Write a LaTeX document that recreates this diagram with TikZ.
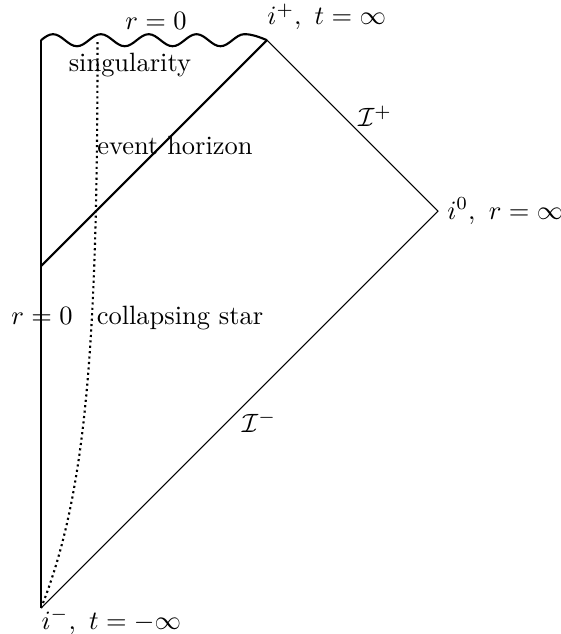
\documentclass[tikz,border=0pt]{standalone}
\usepackage{amsmath,amssymb}
\usepackage{tikz}
\usetikzlibrary{positioning, calc}

\begin{document}
\begin{tikzpicture}[
    every node/.style={font=\normalsize},
    boundary/.style={thick},
    nullinf/.style={thin},
    starsurface/.style={line width=0.8pt, dash pattern=on 0.8pt off 1.25pt}
]
\useasboundingbox (-0.545,-0.345) rectangle (6.892,8.074);

% === CORNERS ===
\coordinate (iminus) at (0,0);
\coordinate (izero) at (5.27,5.27);
\coordinate (iplus) at (3.0,7.54);
\coordinate (rzero) at (0,7.54);
\coordinate (horizon) at (0,4.54);

% === BOUNDARIES ===
\draw[boundary] (iminus) -- (rzero);
% singularity: quarter waves, last one stretched into i+
\draw[boundary] (rzero)
    \foreach \k in {1,...,4}{
        sin ++(0.1588,0.08) cos ++(0.1588,-0.08)
        sin ++(0.1588,-0.08) cos ++(0.1588,0.08)
    }
    sin ++(0.1588,0.08) cos (iplus);
\draw[nullinf] (iplus) -- (izero) -- (iminus);

% Event horizon and surface of the star
\draw[boundary] (horizon) -- (iplus);
\draw[starsurface] (iminus) .. controls (0.6,1.5) and (0.75,3.5) .. (0.75,7.54);

% === LABELS ===
\node (toplabel) [anchor=base] at (1.527,7.676) {$r=0$};
\node (sing) [anchor=base] at (1.18,7.12) {singularity};
\node (evh) [anchor=base] at (1.78,6.016) {event horizon};
\node (leftlabel) [anchor=base] at (0.013,3.76) {$r=0$};
\node (star) [anchor=base] at (1.846,3.76) {collapsing star};
\node (scriplus) [anchor=base] at (4.436,6.39) {$\mathcal{I}^+$};
\node (scriminus) [anchor=base] at (2.895,2.337) {$\mathcal{I}^-$};

% Corner labels
\node (iplabel) [above right=0.13cm and 0cm of iplus, inner sep=0pt] {$i^+,\ t=\infty$};
\node (izlabel) [right] at (izero) {$i^0,\ r=\infty$};
\node (imlabel) [anchor=base west, inner sep=0pt] at ($(iminus)+(0,-0.279)$) {$i^-,\ t=-\infty$};

\end{tikzpicture}
\end{document}
